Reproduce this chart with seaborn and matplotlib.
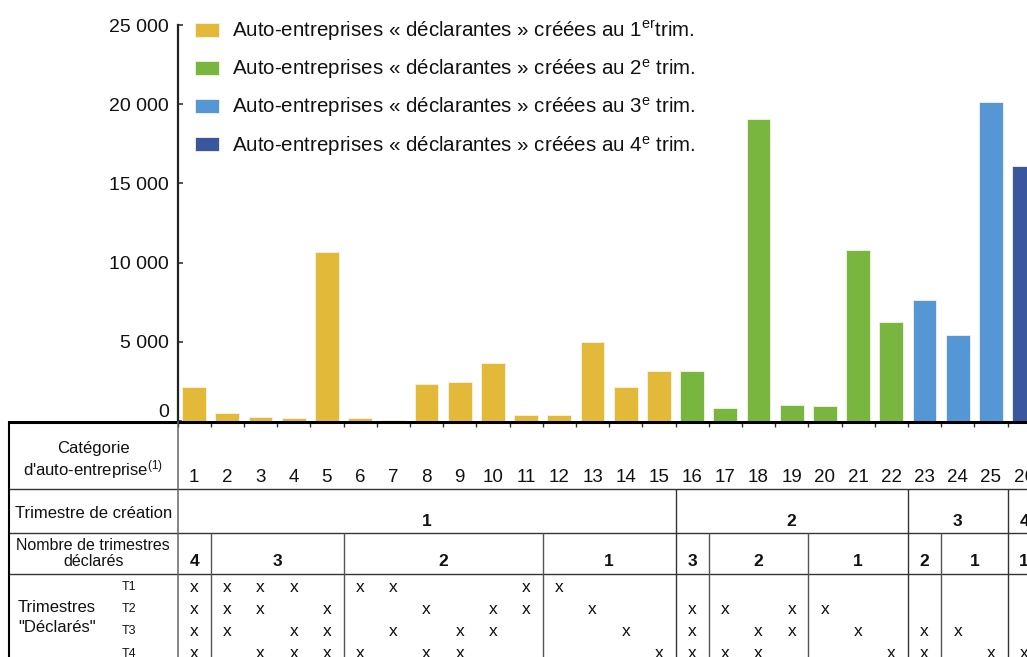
import matplotlib
matplotlib.use('Agg')
import numpy as np
import pandas as pd
import matplotlib.pyplot as plt
import seaborn as sns

# données
categories = [1, 2, 3, 4, 5, 6, 7, 8, 9, 10, 11, 12, 13, 14, 15, 16, 17, 18, 19, 20, 21, 22, 23, 24, 25, 26]
effectifs = [2170, 490, 270, 190, 10650, 190, 90, 2340, 2450, 3670, 380, 380, 4980,
             2170, 3180, 3180, 820, 19050, 1030, 950, 10820, 6220, 7640, 5460, 20170, 16120]
trim_creation = [1, 1, 1, 1, 1, 1, 1, 1, 1, 1, 1, 1, 1, 1, 1, 2, 2, 2, 2, 2, 2, 2, 3, 3, 3, 4]
# catégories ayant déclaré chaque trimestre
t1 = [1, 2, 3, 4, 6, 7, 11, 12]
t2 = [1, 2, 3, 5, 8, 10, 11, 13, 16, 17, 19, 20]
t3 = [1, 2, 4, 5, 7, 9, 10, 14, 16, 18, 19, 21, 23, 24]
t4 = [1, 3, 4, 5, 6, 8, 9, 15, 16, 17, 18, 22, 23, 25, 26]
legend_labels = [
    'Auto-entreprises « déclarantes » créées au 1$^{\\mathrm{er}}$trim.',
    'Auto-entreprises « déclarantes » créées au 2$^{\\mathrm{e}}$ trim.',
    'Auto-entreprises « déclarantes » créées au 3$^{\\mathrm{e}}$ trim.',
    'Auto-entreprises « déclarantes » créées au 4$^{\\mathrm{e}}$ trim.',
]
colors = ['#E3B93A', '#78B63F', '#5597D5', '#3A579E']
yticks = [0, 5000, 10000, 15000, 20000, 25000]
ytick_labels = ['0', '5 000', '10 000', '15 000', '20 000', '25 000']

sns.set_style('white')
plt.rcParams['font.family'] = ['Liberation Sans', 'DejaVu Sans']
plt.rcParams['mathtext.fontset'] = 'custom'
plt.rcParams['mathtext.rm'] = 'Liberation Sans'
plt.rcParams['mathtext.it'] = 'Liberation Sans:italic'
plt.rcParams['mathtext.bf'] = 'Liberation Sans:bold'
plt.rcParams['text.color'] = '#111111'

df = pd.DataFrame({'categorie': categories, 'effectif': effectifs,
                   'trimestre': [legend_labels[q - 1] for q in trim_creation]})

W, H = 1027, 657
x_left = 177.5   # position en pixels de l'axe vertical
step = 33.2      # largeur d'une colonne en pixels
x_right = -0.5 + (W - x_left) / step

fig = plt.figure(figsize=(W / 100, H / 100), dpi=100)
ax = fig.add_axes([x_left / W, 236 / H, 1 - x_left / W, 396 / H])

sns.barplot(data=df, x='categorie', y='effectif', hue='trimestre', hue_order=legend_labels,
            palette=colors, saturation=1, dodge=False, width=0.72, errorbar=None,
            edgecolor='#f6f2e4', linewidth=0.6, ax=ax)

ax.set_xlim(-0.5, x_right)
ax.set_ylim(0, 25000)
ax.set_yticks(yticks)
ax.set_yticklabels(ytick_labels)
ax.set_xticks(np.arange(-0.5, 25, 1))
ax.set(xlabel='', ylabel='')
ax.tick_params(axis='x', bottom=True, direction='out', length=4, width=1, color='#333', labelbottom=False)
ax.tick_params(axis='y', left=True, direction='in', length=3.5, width=1.2, color='#333', pad=6,
               labelsize=14, labelcolor='#111111')
for s in ['top', 'right', 'bottom']:
    ax.spines[s].set_visible(False)
ax.spines['left'].set_linewidth(1.6)
ax.spines['left'].set_color('#222')
ax.yaxis.get_major_ticks()[0].label1.set_va('bottom')

sns.move_legend(ax, 'upper left', bbox_to_anchor=(195 / W, 1 - 19 / H), bbox_transform=fig.transFigure,
                frameon=False, title=None, fontsize=14.8, handlelength=1.17, handleheight=0.69,
                handletextpad=0.64, labelspacing=0.69, borderpad=0, borderaxespad=0)

# tableau sous le graphique
tab = fig.add_axes([0, 0, 1, 236 / H])
x_min = -0.5 - x_left / step
tab.set_xlim(x_min, x_right)
tab.set_ylim(236, 0)
tab.axis('off')
x_border = x_min + 9 / step
pos = np.arange(len(categories))

tab.hlines(0.8, x_border, x_right, color='black', lw=2.2)
tab.hlines([68, 112, 153], x_border, x_right, color='#333', lw=1)
tab.vlines(x_border, 0, 236, color='black', lw=1.5)
tab.vlines(-0.5, 0, 236, color='#666', lw=1.1)

x_head = (x_border - 0.5) / 2
tab.text(x_head, 27, 'Catégorie', ha='center', va='center', fontsize=12)
tab.text(x_head, 49, "d'auto-entreprise$^{\\mathrm{(1)}}$", ha='center', va='center', fontsize=12)
tab.text(x_head, 93, 'Trimestre de création', ha='center', va='center', fontsize=12)
tab.text(x_head, 125, 'Nombre de trimestres', ha='center', va='center', fontsize=11.5)
tab.text(x_head, 141, 'déclarés', ha='center', va='center', fontsize=11.5)
tab.text(x_head - 1.1, 187, 'Trimestres', ha='center', va='center', fontsize=12)
tab.text(x_head - 1.1, 206, '"Déclarés"', ha='center', va='center', fontsize=12)

for p, c in zip(pos, categories):
    tab.text(p, 57, str(c), ha='center', va='center', fontsize=13.5)

# lignes T1..T4
rows_y = [166, 188.5, 210.5, 233]
declares = [t1, t2, t3, t4]
for i, (ry, lst) in enumerate(zip(rows_y, declares)):
    tab.text(-1.95, ry, 'T%d' % (i + 1), ha='center', va='center', fontsize=9)
    for c in lst:
        tab.text(categories.index(c), ry, 'x', ha='center', va='center', fontsize=12.5)

nb_declares = [sum(c in lst for lst in declares) for c in categories]


# groupes consécutifs de valeurs identiques
def runs(keys):
    out = []
    start = 0
    for i in range(1, len(keys) + 1):
        if i == len(keys) or keys[i] != keys[start]:
            out.append((start, i - 1))
            start = i
    return out


for a, b in runs(trim_creation):
    tab.text((a + b) / 2, 100, str(trim_creation[a]), ha='center', va='center',
             fontsize=12.5, fontweight='bold')
    if a > 0:
        tab.vlines(a - 0.5, 68, 236, color='#333', lw=1)

keys = list(zip(trim_creation, nb_declares))
for a, b in runs(keys):
    tab.text((a + b) / 2, 141, str(nb_declares[a]), ha='center', va='center',
             fontsize=12.5, fontweight='bold')
    if a > 0 and trim_creation[a] == trim_creation[a - 1]:
        tab.vlines(a - 0.5, 112, 236, color='#555', lw=1)

fig.savefig('out.png', dpi=100)
